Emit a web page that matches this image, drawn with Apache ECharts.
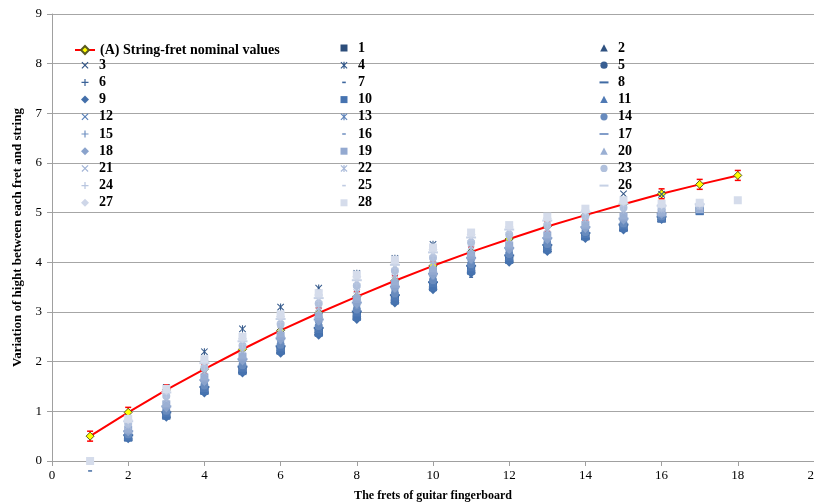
<!DOCTYPE html>
<html><head><meta charset="utf-8">
<script src="https://cdn.jsdelivr.net/npm/echarts@6/dist/echarts.min.js"></script>
<style>html,body{margin:0;padding:0;background:#fff}#c{width:814px;height:502px}</style>
</head><body><div id="c"></div>
<script>
const frets = [1,2,3,4,5,6,7,8,9,10,11,12,13,14,15,16,17,18];
const nominal = [0.50,0.98,1.43,1.85,2.25,2.63,2.98,3.31,3.63,3.93,4.21,4.47,4.72,4.95,5.17,5.38,5.57,5.75];
const nominalErr = [0.1,0.1,0.1,0.1,0.1,0.1,0.1,0.1,0.1,0.1,0.1,0.1,0.1,0.1,0.1,0.1,0.1,0.1];
const nominalName = '(A) String-fret nominal values';

const s1 = [null,.48,.93,1.42,1.83,2.23,2.60,2.92,3.25,3.52,3.85,4.06,4.28,4.53,4.70,4.89,5.04,null];
const s2 = [null,.50,.95,1.45,1.86,2.26,2.63,2.96,3.28,3.55,3.88,4.09,4.30,4.55,4.72,4.90,null,null];
const s3 = [null,.52,1.48,1.49,1.90,2.31,2.68,3.01,3.34,3.60,3.93,4.14,4.35,4.59,5.38,5.37,null,null];
const s4 = [null,.53,.99,2.20,2.66,3.10,3.48,3.78,4.08,4.36,3.94,4.15,4.36,4.60,4.77,4.92,null,null];
const s5 = [null,.51,.97,1.47,1.88,2.29,2.66,2.99,3.31,3.58,3.90,4.11,4.33,4.57,4.74,4.91,null,null];
const s6 = [null,.53,.99,1.51,1.92,2.33,2.70,3.03,3.35,3.62,3.94,4.15,4.36,4.60,4.77,4.92,null,null];
const s7 = [-0.2,.49,.94,1.44,1.84,2.25,2.62,2.94,3.27,3.54,3.70,4.08,4.29,4.54,4.71,4.89,null,null];
const s8 = [null,.52,.98,1.49,1.90,2.31,2.68,3.01,3.34,3.60,3.93,4.14,4.35,4.59,4.76,4.92,null,null];
const s9 = [null,.45,.88,1.37,1.77,2.17,2.53,2.85,3.18,3.45,3.78,4.00,4.22,4.48,4.65,4.86,null,null];
const s10 = [null,.47,.91,1.41,1.81,2.22,2.58,2.90,3.23,3.50,3.83,4.05,4.26,4.52,4.69,4.88,5.03,null];
const s11 = [null,.52,.98,1.48,1.89,2.30,2.67,3.00,3.32,3.59,3.91,4.12,4.34,4.58,4.75,4.91,null,null];
const s12 = [null,.53,.99,1.49,1.90,2.31,2.68,3.02,3.33,3.60,3.92,4.13,4.34,4.58,4.75,4.92,null,null];
const s13 = [null,.55,1.02,1.53,1.95,2.36,2.73,3.07,3.39,3.65,3.98,4.18,4.39,4.62,4.79,4.94,null,null];
const s14 = [null,.54,1.01,1.52,1.93,2.34,2.72,3.05,3.37,3.64,3.96,4.17,4.37,4.61,4.78,4.93,null,null];
const s15 = [null,.57,1.05,1.57,1.99,2.40,2.79,3.12,3.44,3.71,4.03,4.23,4.43,4.66,4.83,4.96,null,null];
const s16 = [null,.56,1.03,1.55,1.96,2.37,2.75,3.08,3.41,3.67,3.99,4.20,4.40,4.64,4.81,4.94,null,null];
const s17 = [null,.60,1.10,1.63,2.05,2.47,2.85,3.19,3.51,3.77,4.09,4.29,4.49,4.71,4.88,4.98,null,null];
const s18 = [null,.59,1.07,1.60,2.02,2.44,2.82,3.16,3.48,3.74,4.06,4.26,4.46,4.68,4.85,4.97,null,null];
const s19 = [null,.63,1.14,1.68,2.10,2.52,2.91,3.26,3.57,3.83,4.15,4.34,4.54,4.75,4.92,5.00,5.10,null];
const s20 = [null,.66,1.18,1.72,2.15,2.58,2.97,3.32,3.63,3.89,4.21,4.39,4.58,4.79,4.96,5.03,5.08,null];
const s21 = [null,.69,1.22,1.78,2.21,2.64,3.04,3.39,3.70,3.96,4.27,4.45,4.64,4.84,5.01,5.05,5.11,null];
const s22 = [null,.71,1.26,1.82,2.25,2.68,3.09,3.44,3.75,4.01,4.32,4.50,4.68,4.88,5.05,5.07,5.12,null];
const s23 = [null,.75,1.31,1.88,2.32,2.76,3.17,3.53,3.83,4.09,4.40,4.56,4.75,4.93,5.10,5.10,5.14,null];
const s24 = [null,.77,1.34,1.91,2.35,2.79,3.21,3.57,3.88,4.13,4.44,4.60,4.78,4.96,5.13,5.12,5.15,null];
const s25 = [null,.79,1.36,1.95,2.39,2.83,3.25,3.62,3.92,4.17,4.48,4.64,4.82,4.99,5.16,5.13,5.16,null];
const s26 = [null,.80,1.38,1.97,2.41,2.86,3.28,3.64,3.95,4.20,4.50,4.66,4.84,5.01,5.18,5.14,5.17,null];
const s27 = [null,.83,1.42,2.02,2.46,2.91,3.34,3.71,4.01,4.26,4.56,4.71,4.89,5.05,5.22,5.16,5.19,null];
const s28 = [0,.85,1.45,2.05,2.50,2.95,3.38,3.75,4.05,4.30,4.60,4.75,4.92,5.08,5.25,5.18,5.20,5.25];
const seriesValues = [s1,s2,s3,s4,s5,s6,s7,s8,s9,s10,s11,s12,s13,s14,s15,s16,s17,s18,s19,s20,s21,s22,s23,s24,s25,s26,s27,s28];
const seriesNames = seriesValues.map((_, i) => String(i + 1));

// ---- styles ----
const anchors = [[1,[44,77,122]],[10,[70,115,176]],[19,[147,169,208]],[28,[213,220,235]]];
function colorFor(n){
  for (let k=0;k<anchors.length-1;k++){
    const [a,ca]=anchors[k],[b,cb]=anchors[k+1];
    if(n>=a&&n<=b){const t=(n-a)/(b-a);
      return 'rgb('+ca.map((v,j)=>Math.round(v+(cb[j]-v)*t)).join(',')+')';}
  }
  return 'rgb(213,220,235)';
}
const P = 'M0,0M10,10';
const ptSym = [
  'rect',
  'triangle',
  'path://'+P+'M1,1.8L1.8,1L5,4.2L8.2,1L9,1.8L5.8,5L9,8.2L8.2,9L5,5.8L1.8,9L1,8.2L4.2,5Z',
  'path://'+P+'M1,1.8L1.8,1L5,4.2L8.2,1L9,1.8L5.8,5L9,8.2L8.2,9L5,5.8L1.8,9L1,8.2L4.2,5ZM4.4,1H5.6V9H4.4Z',
  'circle',
  'path://'+P+'M4.4,1H5.6V4.4H9V5.6H5.6V9H4.4V5.6H1V4.4H4.4Z',
  'path://'+P+'M2.8,4.2H7.2V5.8H2.8Z',
  'path://'+P+'M0,4H10V6H0Z',
  'diamond'
];
const ptSize = [8,9,9,9,8,9,9,10,9];
const L = 'M0,0M18,14';
const lgSym = [
  'path://'+L+'M5.5,3.5H12.5V10.5H5.5Z',
  'path://'+L+'M9,3.2L12.8,10.5H5.2Z',
  'path://'+L+'M5.5,4.3L6.3,3.5L9,6.2L11.7,3.5L12.5,4.3L9.8,7L12.5,9.7L11.7,10.5L9,7.8L6.3,10.5L5.5,9.7L8.2,7Z',
  'path://'+L+'M5.5,4.3L6.3,3.5L9,6.2L11.7,3.5L12.5,4.3L9.8,7L12.5,9.7L11.7,10.5L9,7.8L6.3,10.5L5.5,9.7L8.2,7ZM8.4,3.5H9.6V10.5H8.4Z',
  'path://'+L+'M5.4,7A3.6,3.6,0,1,1,12.6,7A3.6,3.6,0,1,1,5.4,7Z',
  'path://'+L+'M8.4,3.5H9.6V6.4H12.5V7.6H9.6V10.5H8.4V7.6H5.5V6.4H8.4Z',
  'path://'+L+'M7.2,6.2H10.8V7.8H7.2Z',
  'path://'+L+'M4.5,6H13.5V8H4.5Z',
  'path://'+L+'M9,3L13,7L9,11L5,7Z'
];

const serif = 'Liberation Serif';
const legendText = {fontFamily: serif, fontWeight: 'bold', fontSize: 14, color: '#000'};

function legendCol(idxs, left, top){
  return {
    orient: 'vertical', left: left, top: top, itemWidth: 18, itemHeight: 14, itemGap: 3.2,
    padding: 0, textStyle: legendText, selectedMode: false,
    data: idxs.map(i => ({name: seriesNames[i], icon: lgSym[i % 9]}))
  };
}
const col1 = [], col2 = [], col3 = [];
seriesNames.forEach((n, i) => { const pos = (i + 1) % 3; (pos === 0 ? col1 : pos === 1 ? col2 : col3).push(i); });
const rowH = 17.2, top0 = 41;

const scatterSeries = seriesValues.map((vals, i) => ({
  name: seriesNames[i], type: 'scatter', z: 3, clip: false,
  symbol: ptSym[i % 9], symbolSize: ptSize[i % 9],
  itemStyle: {color: colorFor(i + 1), opacity: 1},
  data: frets.map((f, k) => vals[k] == null ? null : [f, vals[k]]).filter(d => d)
}));

const option = {
  animation: false,
  backgroundColor: '#fff',
  grid: {left: 52, right: 0, top: 14, bottom: 41, containLabel: false, outerBoundsMode: 'none'},
  legend: [
    {orient: 'vertical', left: 74, top: top0 + 2, itemWidth: 20, itemHeight: 10, padding: 0,
     textStyle: legendText, selectedMode: false, data: [nominalName]},
    legendCol(col1, 76, top0 + rowH),
    legendCol(col2, 335, top0),
    legendCol(col3, 595, top0)
  ],
  xAxis: {
    type: 'value', min: 0, max: 20, interval: 2,
    name: 'The frets of guitar fingerboard', nameLocation: 'middle', nameGap: 29,
    nameTextStyle: {fontFamily: serif, fontWeight: 'bold', fontSize: 12, color: '#000'},
    axisLine: {show: true, lineStyle: {color: '#a0a0a0', width: 1}},
    axisTick: {show: true, length: 5, lineStyle: {color: '#a0a0a0'}},
    axisLabel: {fontFamily: serif, fontSize: 13, color: '#000', margin: 8},
    splitLine: {show: false}
  },
  yAxis: {
    type: 'value', min: 0, max: 9, interval: 1,
    name: 'Variation of hight between each fret and string', nameLocation: 'middle', nameGap: 28,
    nameTextStyle: {fontFamily: serif, fontWeight: 'bold', fontSize: 13, color: '#000'},
    axisLine: {show: true, lineStyle: {color: '#a0a0a0', width: 1}},
    axisTick: {show: true, length: 5, lineStyle: {color: '#a0a0a0'}},
    axisLabel: {fontFamily: serif, fontSize: 13, color: '#000', margin: 10},
    splitLine: {show: true, lineStyle: {color: '#a6a6a6', width: 1}}
  },
  series: [
    {
      name: nominalName, type: 'line', z: 2,
      data: frets.map((f, k) => [f, nominal[k]]),
      lineStyle: {color: '#ff0000', width: 2},
      itemStyle: {color: '#ffff00', borderColor: '#5a5a20', borderWidth: 1},
      symbol: 'diamond', symbolSize: 8, showSymbol: true
    },
    {
      name: 'err', type: 'custom', z: 2,
      data: frets.map((f, k) => [f, nominal[k], nominalErr[k]]),
      renderItem: function (params, api) {
        const x = api.value(0), y = api.value(1), e = api.value(2);
        const t = api.coord([x, y + e]), b = api.coord([x, y - e]);
        const w = 3;
        const st = {stroke: '#ff0000', lineWidth: 1.5};
        return {type: 'group', children: [
          {type: 'line', shape: {x1: t[0], y1: t[1], x2: b[0], y2: b[1]}, style: st},
          {type: 'line', shape: {x1: t[0] - w, y1: t[1], x2: t[0] + w, y2: t[1]}, style: st},
          {type: 'line', shape: {x1: b[0] - w, y1: b[1], x2: b[0] + w, y2: b[1]}, style: st}
        ]};
      }
    }
  ].concat(scatterSeries)
};
const chart = echarts.init(document.getElementById('c'));
chart.setOption(option);
</script></body></html>
